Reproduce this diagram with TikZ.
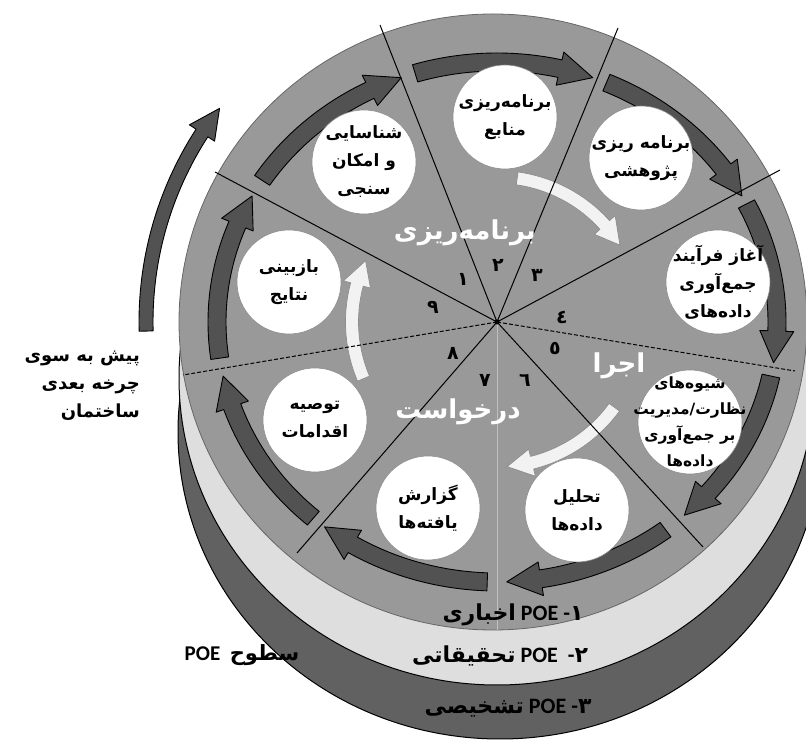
\documentclass[tikz,border=0pt]{standalone}
\usepackage{fontspec}
\setmainfont{Carlito}
\newfontfamily\arabicfont[Script=Arabic]{DejaVu Sans}
\TeXXeTstate=1
\newcommand{\rl}[1]{\beginR#1\endR}
\newcommand{\headdeg}{7}
% #1 style, #2 cx, #3 cy, #4 rx, #5 ry, #6 start angle, #7 tip angle, #8 half width, #9 head half width
\newcommand{\fatarc}[9]{%
  \pgfmathsetmacro{\faro}{#4+#8}\pgfmathsetmacro{\faqo}{#5+#8}%
  \pgfmathsetmacro{\fari}{#4-#8}\pgfmathsetmacro{\faqi}{#5-#8}%
  \pgfmathsetmacro{\farh}{#4+#9}\pgfmathsetmacro{\faqh}{#5+#9}%
  \pgfmathsetmacro{\farj}{#4-#9}\pgfmathsetmacro{\faqj}{#5-#9}%
  \pgfmathsetmacro{\faB}{#7+\headdeg}%
  \begin{scope}[shift={(#2,#3)}]
  \draw[#1] (#6:{\faro} and {\faqo}) arc[start angle=#6, end angle=\faB, x radius=\faro, y radius=\faqo]
    -- (\faB:{\farh} and {\faqh}) -- (#7:{#4} and {#5}) -- (\faB:{\farj} and {\faqj})
    -- (\faB:{\fari} and {\faqi}) arc[start angle=\faB, end angle=#6, x radius=\fari, y radius=\faqi] -- cycle;
  \end{scope}}
\tikzset{
  rimarrow/.style={fill=black!68, draw=black, line width=0.9pt, line join=round},
  whitearrow/.style={fill=black!5, draw=black!45, line width=0.7pt, line join=round},
  bubble/.style={circle, fill=white, draw=black!45, line width=0.6pt, minimum size=104pt, inner sep=0pt},
  btext/.style={align=center, inner sep=0pt, font=\arabicfont\bfseries\fontsize{17}{28}\selectfont},
  spoke/.style={draw=black, line width=1pt},
  dspoke/.style={draw=black, line width=1pt, dash pattern=on 4pt off 2pt},
  num/.style={font=\arabicfont\bfseries\fontsize{19}{19}\selectfont, inner sep=0pt},
  phase/.style={font=\arabicfont\bfseries\fontsize{26}{26}\selectfont, text=white, inner sep=0pt},
  level/.style={font=\bfseries\fontsize{22}{22}\selectfont, inner sep=0pt},
}
\begin{document}
\begin{tikzpicture}[x=1pt,y=1pt]
\useasboundingbox (0,0) rectangle (806,741);
% stacked layers
\fill[black!62, draw=black, line width=1pt] (500,309) ellipse[x radius=322, y radius=307];
\fill[black!13, draw=black, line width=1pt] (497,363) ellipse[x radius=318, y radius=307];
\fill[black!40, draw=black!60, line width=0.8pt] (493,419) ellipse[x radius=314, y radius=308];
% next cycle arrow
\renewcommand{\headdeg}{5}
\fatarc{rimarrow}{493}{419}{347}{347}{181.5}{142}{7}{15}
% inner white arrows
\renewcommand{\headdeg}{10}
\fatarc{whitearrow}{497}{419}{145}{145}{82}{32}{6.5}{14}
\fatarc{whitearrow}{497}{419}{145}{145}{-36}{-86}{6.5}{14}
\fatarc{whitearrow}{497}{419}{145}{145}{-157}{-205}{6.5}{14}
% rim arrows
\renewcommand{\headdeg}{7}
\fatarc{rimarrow}{497}{419}{280}{260}{107}{70}{9}{17}
\fatarc{rimarrow}{497}{419}{280}{260}{67}{29}{9}{17}
\fatarc{rimarrow}{497}{419}{280}{260}{27}{-9}{9}{17}
\fatarc{rimarrow}{497}{419}{280}{260}{-12}{-48}{9}{17}
\fatarc{rimarrow}{497}{419}{280}{260}{-53}{-88}{9}{17}
\fatarc{rimarrow}{497}{419}{280}{260}{-92}{-128}{9}{17}
\fatarc{rimarrow}{497}{419}{280}{260}{-131}{-168}{9}{17}
\fatarc{rimarrow}{497}{419}{280}{260}{188}{151}{9}{17}
\fatarc{rimarrow}{497}{419}{280}{260}{147}{110}{9}{17}
% bubbles
\node[bubble] (b1) at (364,579) {};
\node[bubble] (b2) at (505,624) {};
\node[bubble] (b3) at (641,583) {};
\node[bubble] (b4) at (718,459) {};
\node[bubble] (b5) at (690,319) {};
\node[bubble] (b6) at (577,231) {};
\node[bubble] (b7) at (428,233) {};
\node[bubble] (b8) at (315,321) {};
\node[bubble] (b9) at (289,459) {};
% spokes
\coordinate (hub) at (497,419);
\coordinate (e1) at (380,716);
\coordinate (e2) at (618,713);
\coordinate (e3) at (780,571);
\coordinate (e4) at (795,370);
\coordinate (e5) at (703,194);
\coordinate (e6) at (497,111);
\coordinate (e7) at (297,188);
\coordinate (e8) at (183,366);
\coordinate (e9) at (215,569);
\draw[spoke] (hub) -- (e1);
\draw[spoke] (hub) -- (e2);
\draw[spoke] (hub) -- (e3);
\draw[dspoke] (hub) -- (e4);
\draw[spoke] (hub) -- (e5);
\draw[draw=black!25, line width=1pt] (hub) -- (e6);
\draw[spoke] (hub) -- (e7);
\draw[dspoke] (hub) -- (e8);
\draw[spoke] (hub) -- (e9);
\fill[black] (hub) circle (2.5);
% bubble texts
\node[btext] (t1) at (b1) {\rl{شناسایی}\\\rl{و امکان}\\\rl{سنجی}};
\node[btext] (t2) at (b2) {\rl{برنامه‌ریزی}\\\rl{منابع}};
\node[btext] (t3) at (b3) {\rl{برنامه ریزی}\\\rl{پژوهشی}};
\node[btext] (t4) at (b4) {\rl{آغاز فرآیند}\\\rl{جمع‌آوری}\\\rl{داده‌های}};
\node[btext, font=\arabicfont\bfseries\fontsize{15.5}{26}\selectfont] (t5) at (b5) {\rl{شیوه‌های}\\\rl{نظارت/مدیریت}\\\rl{بر جمع‌آوری}\\\rl{داده‌ها}};
\node[btext] (t6) at (b6) {\rl{تحلیل}\\\rl{داده‌ها}};
\node[btext] (t7) at (b7) {\rl{گزارش}\\\rl{یافته‌ها}};
\node[btext] (t8) at (b8) {\rl{توصیه}\\\rl{اقدامات}};
\node[btext] (t9) at (b9) {\rl{بازبینی}\\\rl{نتایج}};
% sector numbers
\node[num] (n1) at (463,462) {١};
\node[num] (n2) at (498,476) {٢};
\node[num] (n3) at (537,466) {٣};
\node[num] (n4) at (562,424) {٤};
\node[num] (n5) at (555,393) {٥};
\node[num] (n6) at (525,361) {٦};
\node[num] (n7) at (485,361) {٧};
\node[num] (n8) at (453,388) {٨};
\node[num] (n9) at (433,434) {٩};
% phase labels
\node[phase] (p1) at (465,508) {\rl{برنامه‌ریزی}};
\node[phase] (p2) at (619,375) {\rl{اجرا}};
\node[phase] (p3) at (458,329) {\rl{درخواست}};
% left note
\node[anchor=east, align=right, inner sep=0pt, font=\arabicfont\bfseries\fontsize{18}{28}\selectfont] (next) at (140,355)
  {\rl{پیش به سوی}\\\rl{چرخه بعدی}\\\rl{ساختمان}};
% levels
\node[level] (l1) at (513,126) {{\arabicfont\rl{اخباری}} POE -{\arabicfont ١}};
\node[level] (l2) at (500,85) {{\arabicfont\rl{تحقیقاتی}} POE \ -{\arabicfont ٢}};
\node[level] (l3) at (508,33) {{\arabicfont\rl{تشخیصی}} POE -{\arabicfont ٣}};
\node[level, font=\bfseries\fontsize{21}{21}\selectfont] (lv) at (242,86) {POE \ {\arabicfont\rl{سطوح}}};
\end{tikzpicture}
\end{document}
